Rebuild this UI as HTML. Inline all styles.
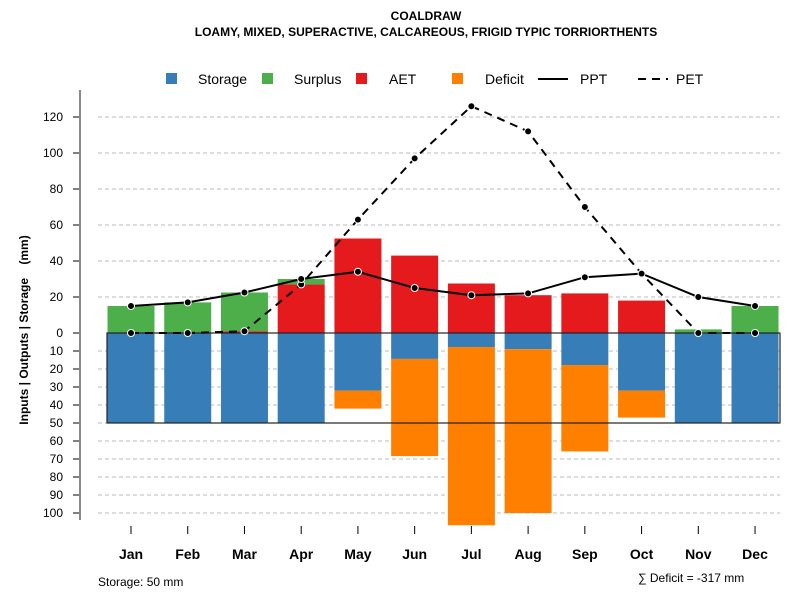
<!DOCTYPE html>
<html><head><meta charset="utf-8"><style>
body{margin:0;background:#fff;}
svg{font-family:"Liberation Sans",sans-serif;}
</style></head><body>
<svg id="chart" width="800" height="600" xmlns="http://www.w3.org/2000/svg">
<text x="426" y="20" text-anchor="middle" font-size="12" font-weight="bold">COALDRAW</text>
<text x="426" y="36" text-anchor="middle" font-size="12" font-weight="bold">LOAMY, MIXED, SUPERACTIVE, CALCAREOUS, FRIGID TYPIC TORRIORTHENTS</text>
<g id="legend" font-size="14">
 <g><rect x="166" y="73" width="11" height="11" fill="#377eb8"/><text x="198" y="84">Storage</text></g>
 <g><rect x="262" y="73" width="11" height="11" fill="#4daf4a"/><text x="294" y="84">Surplus</text></g>
 <g><rect x="356" y="73" width="11" height="11" fill="#e41a1c"/><text x="389" y="84">AET</text></g>
 <g><rect x="452" y="73" width="11" height="11" fill="#ff7f00"/><text x="485" y="84">Deficit</text></g>
 <g><line x1="538" y1="79" x2="568" y2="79" stroke="#000" stroke-width="2"/><text x="580" y="84">PPT</text></g>
 <g><line x1="638" y1="79" x2="668" y2="79" stroke="#000" stroke-width="2" stroke-dasharray="8,6"/><text x="676" y="84">PET</text></g>
</g>
<g id="grid"></g>
<g id="bars"></g>
<g id="lines"></g>
<g id="axes"></g>
<text transform="translate(28,330) rotate(-90)" text-anchor="middle" font-size="12" font-weight="bold">Inputs | Outputs | Storage&#160;&#160;&#160;&#160;(mm)</text>
<text x="98" y="586" font-size="12">Storage: 50 mm</text>
<text x="638" y="582" font-size="12">∑ Deficit = -317 mm</text>
</svg>
<script>
const months=["Jan","Feb","Mar","Apr","May","Jun","Jul","Aug","Sep","Oct","Nov","Dec"];
const storage=[50,50,50,50,32,14.4,7.8,9,17.8,32,50,50];
const deficit=[0,0,0,0,10,54,99,91,48,15,0,0];
const aet=[0,0,1,27,52.5,43,27.5,21,22,18,0,0];
const surplus=[15,17,21.5,3,0,0,0,0,0,0,2,15];
const ppt=[15,17,22.5,30,34,25,21,22,31,33,20,15];
const pet=[0,0,1,27,63,97,126,112,70,33,0,0];
const upTicks=[0,20,40,60,80,100,120];
const downTicks=[10,20,30,40,50,60,70,80,90,100];
const storageCap=50;
const NS="http://www.w3.org/2000/svg";
const y0=333,k=1.8;
const yUp=v=>y0-v*k, yDn=v=>y0+v*k;
const xc=i=>131+i*56.73;
const bw=47;
function mk(tag,attrs,parent){const e=document.createElementNS(NS,tag);for(const a in attrs)e.setAttribute(a,attrs[a]);parent.appendChild(e);return e;}
const grid=document.getElementById("grid"),bars=document.getElementById("bars"),lines=document.getElementById("lines"),axes=document.getElementById("axes");
upTicks.forEach(t=>{const y=yUp(t);
 if(t>0){const g=mk("line",{x1:98,x2:780,y1:y,y2:y,stroke:"#bbb","stroke-dasharray":"4,3"},grid);
 
 }
 const tk=mk("line",{x1:73,x2:80,y1:y,y2:y,stroke:"#000"},axes);
 
 
 const tx=mk("text",{x:63,y:y+4,"text-anchor":"end","font-size":12},axes);tx.textContent=t;
 
 });
downTicks.forEach(t=>{const y=yDn(t);
 const g=mk("line",{x1:98,x2:780,y1:y,y2:y,stroke:"#bbb","stroke-dasharray":"4,3"},grid);
 
 
 const tk=mk("line",{x1:73,x2:80,y1:y,y2:y,stroke:"#000"},axes);
 
 
 const tx=mk("text",{x:63,y:y+4,"text-anchor":"end","font-size":12},axes);tx.textContent=t;
 
 });
const ax=mk("line",{x1:80,x2:80,y1:90,y2:520,stroke:"#888","stroke-width":2},axes);


months.forEach((m,i)=>{const x=xc(i),l=x-bw/2;
 let r=mk("rect",{x:l,y:y0,width:bw,height:storage[i]*k,fill:"#377eb8"},bars);
 
 
 if(deficit[i]>0){r=mk("rect",{x:l,y:yDn(storage[i]),width:bw,height:deficit[i]*k,fill:"#ff7f00"},bars);
 
 }
 if(aet[i]>0){r=mk("rect",{x:l,y:yUp(aet[i]),width:bw,height:aet[i]*k,fill:"#e41a1c"},bars);
 
 }
 if(surplus[i]>0){r=mk("rect",{x:l,y:yUp(aet[i]+surplus[i]),width:bw,height:surplus[i]*k,fill:"#4daf4a"},bars);
 
 }
 const tk=mk("line",{x1:x,x2:x,y1:526,y2:534,stroke:"#000"},axes);
 
 
 const tx=mk("text",{x:x,y:559,"text-anchor":"middle","font-size":14,"font-weight":"bold"},axes);tx.textContent=m;
 
 });
const box=mk("rect",{x:107,y:y0,width:673,height:storageCap*k,fill:"none",stroke:"#222","stroke-width":1.2},bars);


function series(vals,name,dash){
 const p=mk("polyline",{points:vals.map((v,i)=>xc(i)+","+yUp(v)).join(" "),fill:"none",stroke:"#000","stroke-width":2,"stroke-dasharray":dash},lines);
 
 
 vals.forEach((v,i)=>{const c=mk("circle",{cx:xc(i),cy:yUp(v),r:3.5,fill:"#000",stroke:"#fff","stroke-width":1},lines);
 
 });
}
series(pet,"pet","8,6");
series(ppt,"ppt","none");
</script>
</body></html>
